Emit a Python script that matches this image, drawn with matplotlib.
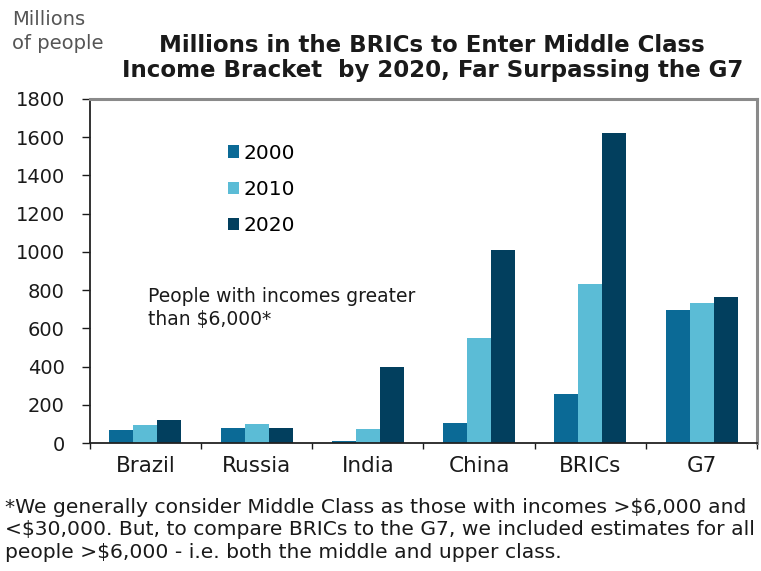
#!/usr/bin/env python3
"""Middle class in the BRICs vs the G7, grouped bars."""

import matplotlib

matplotlib.use("Agg")

import matplotlib.pyplot as plt
import numpy as np

plt.rcParams["font.family"] = ["DejaVu Sans"]

categories = ["Brazil", "Russia", "India", "China", "BRICs", "G7"]
years = ["2000", "2010", "2020"]
values_2000 = [70, 80, 9, 105, 257, 694]
values_2010 = [93, 100, 73, 549, 834, 734]
values_2020 = [119, 80, 397, 1009, 1620, 764]
yticks = [0, 200, 400, 600, 800, 1000, 1200, 1400, 1600, 1800]
footnote = [
    "*We generally consider Middle Class as those with incomes >$6,000 and",
    "<$30,000. But, to compare BRICs to the G7, we included estimates for all",
    "people >$6,000 - i.e. both the middle and upper class.",
]

C2000 = "#0B6A96"
C2010 = "#5BBCD6"
C2020 = "#023F5E"
INK = "#1A1A1A"
GRAYTXT = "#555555"

fig = plt.figure(figsize=(7.61, 5.71), dpi=100)
ax = fig.add_axes([0.118, 0.224, 0.877, 0.603])

x = np.arange(len(categories))
w = 0.216
series = [values_2000, values_2010, values_2020]
colors = [C2000, C2010, C2020]
handles = []
for i, (vals, col, yr) in enumerate(zip(series, colors, years)):
    h = ax.bar(x + (i - 1) * w, vals, w, color=col, label=yr, zorder=2)
    handles.append(h)

ax.set_xlim(-0.5, len(categories) - 0.5)
ax.set_ylim(0, 1800)
ax.set_yticks(yticks)
ax.tick_params(axis="y", labelsize=14, length=6, width=1, colors=INK, pad=12)
ax.set_xticks(x)
ax.set_xticklabels(categories, fontsize=15.5, color=INK)
ax.tick_params(axis="x", length=0, pad=9)
ax.set_xticks(np.arange(len(categories) + 1) - 0.5, minor=True)
ax.tick_params(axis="x", which="minor", length=4, width=1, color=INK)

for side in ("left", "bottom"):
    ax.spines[side].set_color("#222222")
    ax.spines[side].set_linewidth(1.3)
for side in ("top", "right"):
    ax.spines[side].set_color("#8a8a8a")
    ax.spines[side].set_linewidth(2.2)

ax.legend(
    handles=handles,
    loc="upper left",
    bbox_to_anchor=(0.195, 0.893),
    frameon=False,
    fontsize=14.5,
    handlelength=0.55,
    handleheight=0.55,
    handletextpad=0.2,
    labelspacing=0.85,
    borderaxespad=0,
)

ax.text(
    0.087,
    0.33,
    "People with incomes greater\nthan $6,000*",
    transform=ax.transAxes,
    fontsize=13.5,
    color=INK,
    ha="left",
    va="bottom",
    linespacing=1.3,
)

fig.text(0.016, 0.966, "Millions", fontsize=14, color=GRAYTXT, ha="left", va="center")
fig.text(0.016, 0.924, "of people", fontsize=14, color=GRAYTXT, ha="left", va="center")
fig.text(
    0.568,
    0.921,
    "Millions in the BRICs to Enter Middle Class",
    fontsize=16.5,
    fontweight="bold",
    color=INK,
    ha="center",
    va="center",
)
fig.text(
    0.568,
    0.877,
    "Income Bracket  by 2020, Far Surpassing the G7",
    fontsize=16.5,
    fontweight="bold",
    color=INK,
    ha="center",
    va="center",
)

for k, line in enumerate(footnote):
    fig.text(
        0.007,
        0.112 - 0.0395 * k,
        line,
        fontsize=14.6,
        color=INK,
        ha="left",
        va="center",
    )

fig.savefig("out.png", dpi=100)
